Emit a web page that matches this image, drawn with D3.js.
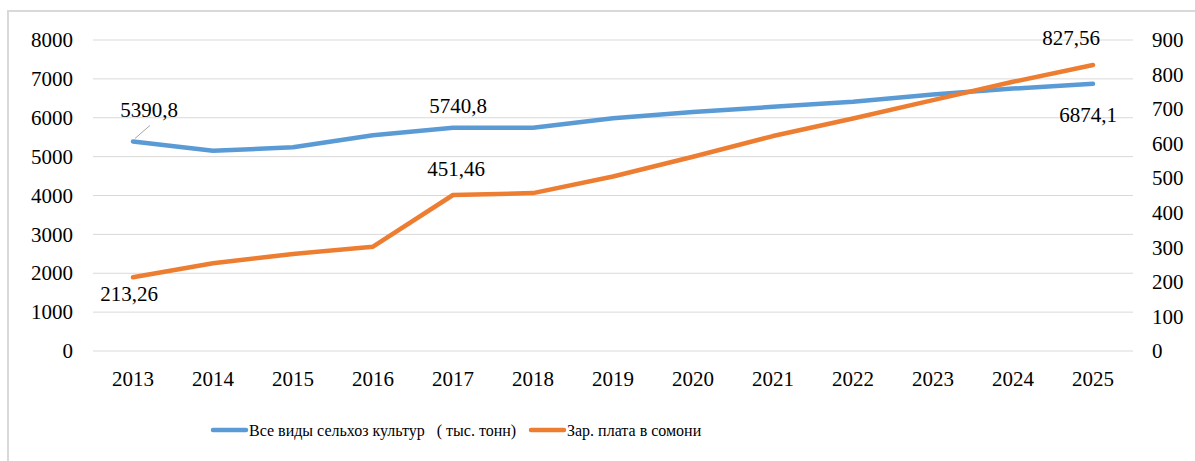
<!DOCTYPE html>
<html>
<head>
<meta charset="utf-8">
<script src="https://cdn.jsdelivr.net/npm/d3@7"></script>
<style>
  body { margin: 0; background: #fff; }
  svg text { font-family: "Liberation Serif", "Times New Roman", "DejaVu Serif", serif; fill: #000; }
  svg text.legend-label { white-space: pre; }
</style>
</head>
<body>
<div id="chart"></div>
<script>
// data
var years = ["2013", "2014", "2015", "2016", "2017", "2018", "2019",
  "2020", "2021", "2022", "2023", "2024", "2025"];
var crops = [5390.8, 5150, 5240, 5550, 5740.8, 5745, 5985, 6150, 6280, 6410, 6600, 6750, 6874.1];
var wages = [213.26, 254, 281, 302, 451.46, 457, 505, 562, 622, 673, 726, 779, 827.56];
var leftTicks = [0, 1000, 2000, 3000, 4000, 5000, 6000, 7000, 8000];
var rightTicks = [0, 100, 200, 300, 400, 500, 600, 700, 800, 900];
var seriesNames = ["Все виды сельхоз культур   ( тыс. тонн)", "Зар. плата в сомони"];
var colors = ["#5B9BD5", "#ED7D31"];

var svgWidth = 1195;
var svgHeight = 461;

var plot = { left: 93, right: 1133, top: 40, bottom: 351 };

var svg = d3.select("#chart")
  .append("svg")
  .attr("width", svgWidth)
  .attr("height", svgHeight);

// outer frame (only left and top edges fall inside the picture)
svg.append("rect")
  .attr("x", 8)
  .attr("y", 11)
  .attr("width", 1200)
  .attr("height", 470)
  .attr("fill", "none")
  .attr("stroke", "#D9D9D9")
  .attr("stroke-width", 2);

// scales
var xScale = d3.scaleBand()
  .domain(years)
  .range([plot.left, plot.right])
  .padding(0);

var yLeft = d3.scaleLinear()
  .domain([0, 8000])
  .range([plot.bottom, plot.top]);

var yRight = d3.scaleLinear()
  .domain([0, 900])
  .range([plot.bottom, plot.top]);

var xPos = function(d, i) { return xScale(years[i]) + xScale.bandwidth() / 2; };

// gridlines
svg.append("g")
  .selectAll("line")
  .data(leftTicks)
  .enter().append("line")
  .attr("x1", plot.left)
  .attr("x2", plot.right)
  .attr("y1", d => yLeft(d))
  .attr("y2", d => yLeft(d))
  .attr("stroke", "#D9D9D9")
  .attr("stroke-width", 1);

// axes
var leftAxis = d3.axisLeft(yLeft).tickValues(leftTicks).tickSize(0).tickPadding(20).tickFormat(d3.format("d"));
var rightAxis = d3.axisRight(yRight).tickValues(rightTicks).tickSize(0).tickPadding(19).tickFormat(d3.format("d"));
var bottomAxis = d3.axisBottom(xScale).tickSize(0).tickPadding(20);

var gL = svg.append("g")
  .attr("transform", `translate(${plot.left}, 0)`)
  .call(leftAxis);

var gR = svg.append("g")
  .attr("transform", `translate(${plot.right}, 0)`)
  .call(rightAxis);

var gB = svg.append("g")
  .attr("transform", `translate(0, ${plot.bottom})`)
  .call(bottomAxis);

[gL, gR, gB].forEach(function(g) {
  g.attr("font-family", null).attr("font-size", null);
  g.select(".domain").remove();
  g.selectAll("text")
    .style("font-size", "21px")
    .attr("fill", "#000");
});

// lines
var lineLeft = d3.line()
  .x(xPos)
  .y(d => yLeft(d));

var lineRight = d3.line()
  .x(xPos)
  .y(d => yRight(d));

svg.append("path")
  .datum(crops)
  .attr("d", lineLeft)
  .attr("fill", "none")
  .attr("stroke", colors[0])
  .attr("stroke-width", 4.5)
  .attr("stroke-linecap", "round")
  .attr("stroke-linejoin", "round");

svg.append("path")
  .datum(wages)
  .attr("d", lineRight)
  .attr("fill", "none")
  .attr("stroke", colors[1])
  .attr("stroke-width", 4.5)
  .attr("stroke-linecap", "round")
  .attr("stroke-linejoin", "round");

// data labels
var fmt = function(v) { return String(v).replace(".", ","); };

var labels = [
  { i: 0, v: crops[0], y: yLeft, dx: 16, dy: -31 },
  { i: 4, v: crops[4], y: yLeft, dx: 5, dy: -22 },
  { i: 12, v: crops[12], y: yLeft, dx: -5, dy: 31 },
  { i: 0, v: wages[0], y: yRight, dx: -4, dy: 17 },
  { i: 4, v: wages[4], y: yRight, dx: 3, dy: -26 },
  { i: 12, v: wages[12], y: yRight, dx: -22, dy: -27 }
];

svg.append("g")
  .selectAll("text")
  .data(labels)
  .enter().append("text")
  .attr("x", d => xPos(null, d.i) + d.dx)
  .attr("y", d => d.y(d.v) + d.dy)
  .attr("text-anchor", "middle")
  .attr("dominant-baseline", "central")
  .style("font-size", "21px")
  .text(d => fmt(d.v));

// leader line for first label
svg.append("line")
  .attr("x1", xPos(null, 0) + 2)
  .attr("y1", yLeft(crops[0]) - 3)
  .attr("x2", xPos(null, 0) + 17)
  .attr("y2", yLeft(crops[0]) - 16)
  .attr("stroke", "#A6A6A6")
  .attr("stroke-width", 1);

// legend
var legendX = [213, 531];

var legend = svg.append("g");

legendX.forEach(function(x0, k) {
  legend.append("line")
    .attr("x1", x0)
    .attr("x2", x0 + 33)
    .attr("y1", 430)
    .attr("y2", 430)
    .attr("stroke", colors[k])
    .attr("stroke-width", 4.5)
    .attr("stroke-linecap", "round");

  legend.append("text")
    .attr("class", "legend-label")
    .attr("x", x0 + 36)
    .attr("y", 430)
    .attr("dominant-baseline", "central")
    .style("font-size", "16px")
    .text(seriesNames[k]);
});
</script>
</body>
</html>
